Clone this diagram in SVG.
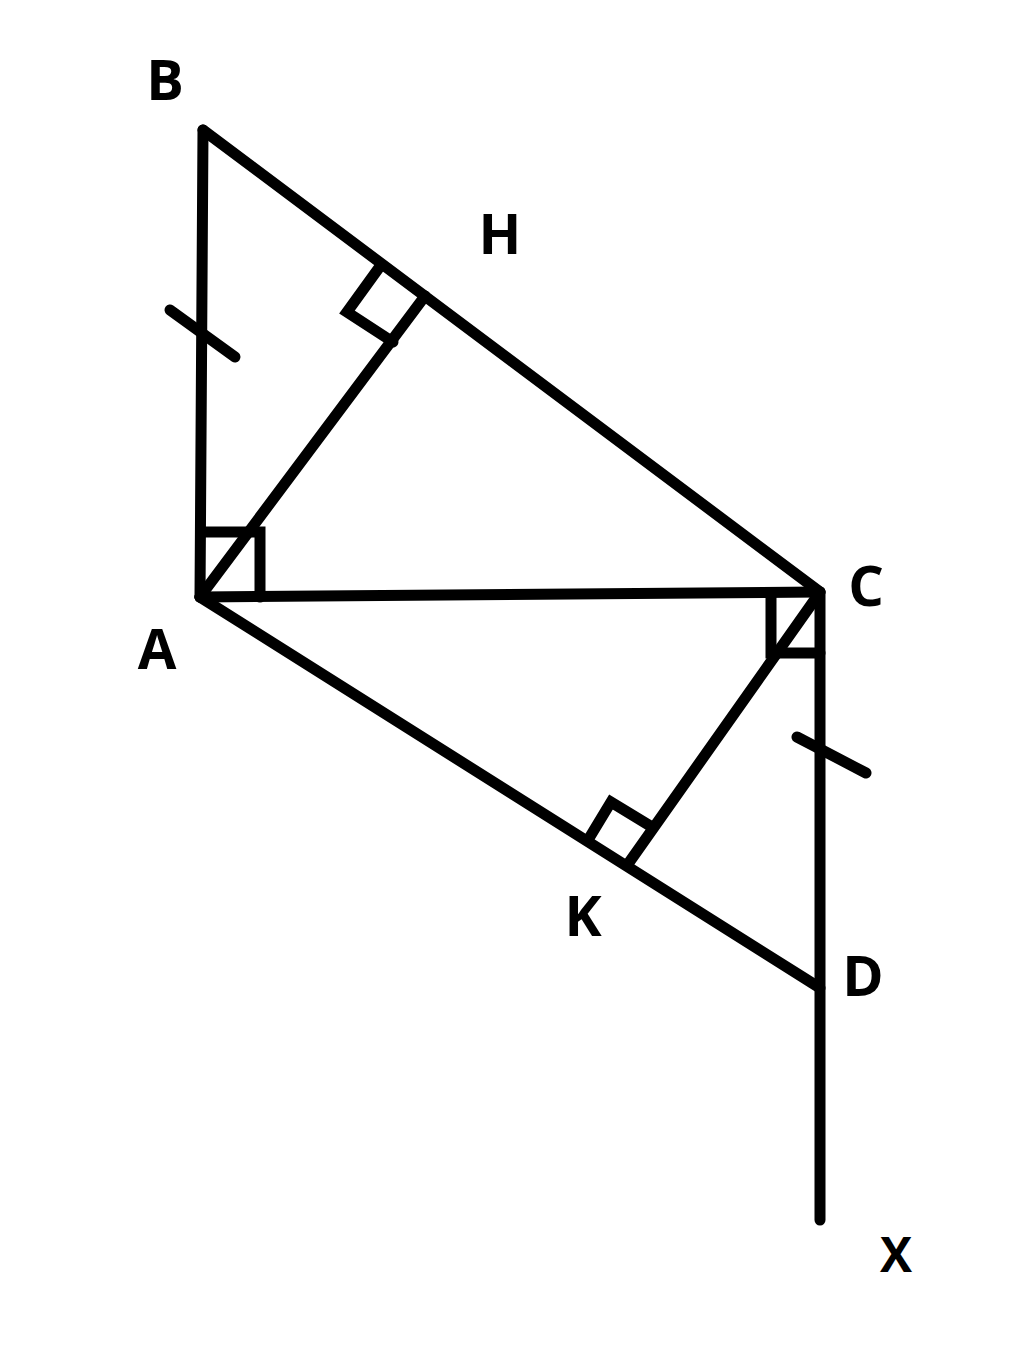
<svg xmlns="http://www.w3.org/2000/svg" width="1024" height="1367" viewBox="0 0 1024 1367">
<style>
.ln{stroke:#000;stroke-width:11;fill:none;stroke-linecap:round;stroke-linejoin:miter}
.lb{font-family:"Open Sans","Liberation Sans",Arial,sans-serif;font-weight:bold;font-size:56px;fill:#000;text-anchor:middle}
</style>
<rect width="1024" height="1367" fill="#fff"/>
<g id="connectors">
<path id="AB" class="ln" d="M200,597 L203,130"/>
<path id="BC" class="ln" d="M203,130 L820,592"/>
<path id="AC" class="ln" d="M200,597 L820,592"/>
<path id="AH" class="ln" d="M200,597 L425,296"/>
<path id="AD" class="ln" d="M200,597 L820,988"/>
<path id="CX" class="ln" d="M820,592 L820,1220"/>
<path id="CK" class="ln" d="M818,595 L628,864"/>
<path id="tickAB" class="ln" d="M170,310 L235,357"/>
<path id="tickCD" class="ln" d="M797,737 L866,773"/>
<path id="rightA" class="ln" d="M202,532 L260,532 L260,597"/>
<path id="rightC" class="ln" d="M820,653 L771,653 L771,594"/>
<path id="rightH" class="ln" d="M381,265 L347,312 L393,342"/>
<path id="rightK" class="ln" d="M588,840 L611,802 L652,827"/>
</g>
<g id="labels">
<text id="B" class="lb" x="165" y="100">B</text>
<text id="H" class="lb" x="500" y="254">H</text>
<text id="C" class="lb" x="866" y="606">C</text>
<text id="A" class="lb" x="157" y="669">A</text>
<text id="K" class="lb" x="583" y="936">K</text>
<text id="D" class="lb" x="863" y="996">D</text>
<text id="X" class="lb" x="896" y="1272" style="font-size:48px">X</text>
</g>
</svg>
